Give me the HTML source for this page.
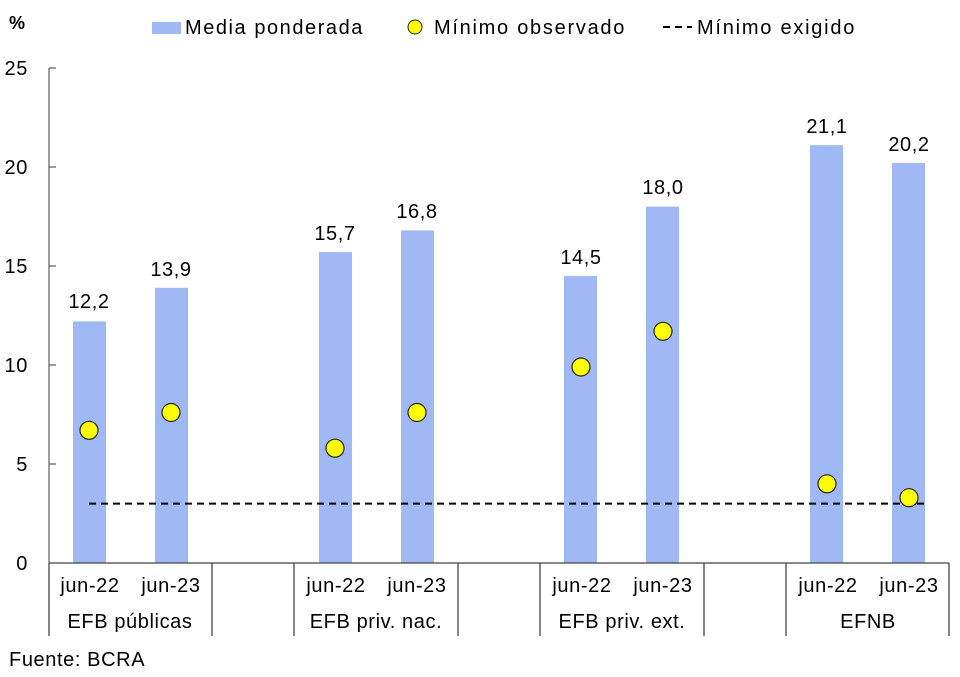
<!DOCTYPE html>
<html><head><meta charset="utf-8"><style>
body{margin:0;background:#fff}
svg{display:block;font-family:"Liberation Sans",Arial,sans-serif}
text{letter-spacing:0.6px}
</style></head><body>
<svg width="960" height="677" viewBox="0 0 960 677" xmlns="http://www.w3.org/2000/svg">
<rect width="960" height="677" fill="#fff"/>
<text x="9" y="29" font-size="18" font-weight="bold" fill="#000">%</text>
<!-- legend -->
<rect x="152" y="22" width="29" height="12" fill="#a0b8f4"/>
<text x="185" y="34" font-size="20" fill="#000" textLength="178" lengthAdjust="spacing">Media ponderada</text>
<circle cx="415" cy="27" r="7" fill="#ffff00" stroke="#222" stroke-width="1"/>
<text x="434" y="34" font-size="20" fill="#000" textLength="191" lengthAdjust="spacing">Mínimo observado</text>
<line x1="663" y1="27" x2="692" y2="27" stroke="#000" stroke-width="2" stroke-dasharray="7,5"/>
<text x="697" y="34" font-size="20" fill="#000" textLength="158" lengthAdjust="spacing">Mínimo exigido</text>
<!-- y axis -->
<g font-size="20" fill="#000" text-anchor="end">
<text x="28" y="75">25</text>
<text x="28" y="174">20</text>
<text x="28" y="273">15</text>
<text x="28" y="372">10</text>
<text x="28" y="471">5</text>
<text x="28" y="570">0</text>
</g>
<g stroke="#666" stroke-width="1.3">
<line x1="49" y1="68" x2="49" y2="563"/>
<line x1="49" y1="68" x2="56" y2="68"/>
<line x1="49" y1="167" x2="56" y2="167"/>
<line x1="49" y1="266" x2="56" y2="266"/>
<line x1="49" y1="365" x2="56" y2="365"/>
<line x1="49" y1="464" x2="56" y2="464"/>
</g>
<!-- bars -->
<g fill="#a0b8f4">
<rect x="73" y="321.4" width="33" height="241.6"/>
<rect x="155" y="287.8" width="33" height="275.2"/>
<rect x="319" y="252.1" width="33" height="310.9"/>
<rect x="401" y="230.4" width="33" height="332.6"/>
<rect x="564" y="275.9" width="33" height="287.1"/>
<rect x="646" y="206.6" width="33" height="356.4"/>
<rect x="810" y="145.2" width="33" height="417.8"/>
<rect x="892" y="163.0" width="33" height="400.0"/>
</g>
<g font-size="20" fill="#000" text-anchor="middle">
<text x="89" y="308">12,2</text>
<text x="171" y="276">13,9</text>
<text x="335" y="240">15,7</text>
<text x="417" y="218">16,8</text>
<text x="581" y="264">14,5</text>
<text x="663" y="194">18,0</text>
<text x="827" y="133">21,1</text>
<text x="909" y="151">20,2</text>
</g>
<line x1="89" y1="503.6" x2="925" y2="503.6" stroke="#000" stroke-width="2" stroke-dasharray="7,5"/>
<g fill="#ffff00" stroke="#222" stroke-width="1.2">
<circle cx="89" cy="430.3" r="9"/>
<circle cx="171" cy="412.5" r="9"/>
<circle cx="335" cy="448.2" r="9"/>
<circle cx="417" cy="412.5" r="9"/>
<circle cx="581" cy="367.0" r="9"/>
<circle cx="663" cy="331.3" r="9"/>
<circle cx="827" cy="483.8" r="9"/>
<circle cx="909" cy="497.7" r="9"/>
</g>
<!-- x axis -->
<g stroke="#444" stroke-width="1.3">
<line x1="49" y1="563" x2="949" y2="563"/>
<line x1="49" y1="563" x2="49" y2="636"/>
<line x1="212" y1="563" x2="212" y2="636"/>
<line x1="294" y1="563" x2="294" y2="636"/>
<line x1="458" y1="563" x2="458" y2="636"/>
<line x1="540" y1="563" x2="540" y2="636"/>
<line x1="704" y1="563" x2="704" y2="636"/>
<line x1="786" y1="563" x2="786" y2="636"/>
<line x1="949" y1="563" x2="949" y2="636"/>
</g>
<g font-size="20" fill="#000" text-anchor="middle">
<text x="90" y="592">jun-22</text><text x="171" y="592">jun-23</text>
<text x="336" y="592">jun-22</text><text x="417" y="592">jun-23</text>
<text x="582" y="592">jun-22</text><text x="663" y="592">jun-23</text>
<text x="828" y="592">jun-22</text><text x="909" y="592">jun-23</text>
<text x="130" y="628">EFB públicas</text>
<text x="376" y="628">EFB priv. nac.</text>
<text x="622" y="628">EFB priv. ext.</text>
<text x="868" y="628">EFNB</text>
</g>
<text x="9" y="666" font-size="20" fill="#000">Fuente: BCRA</text>
</svg>
</body></html>
